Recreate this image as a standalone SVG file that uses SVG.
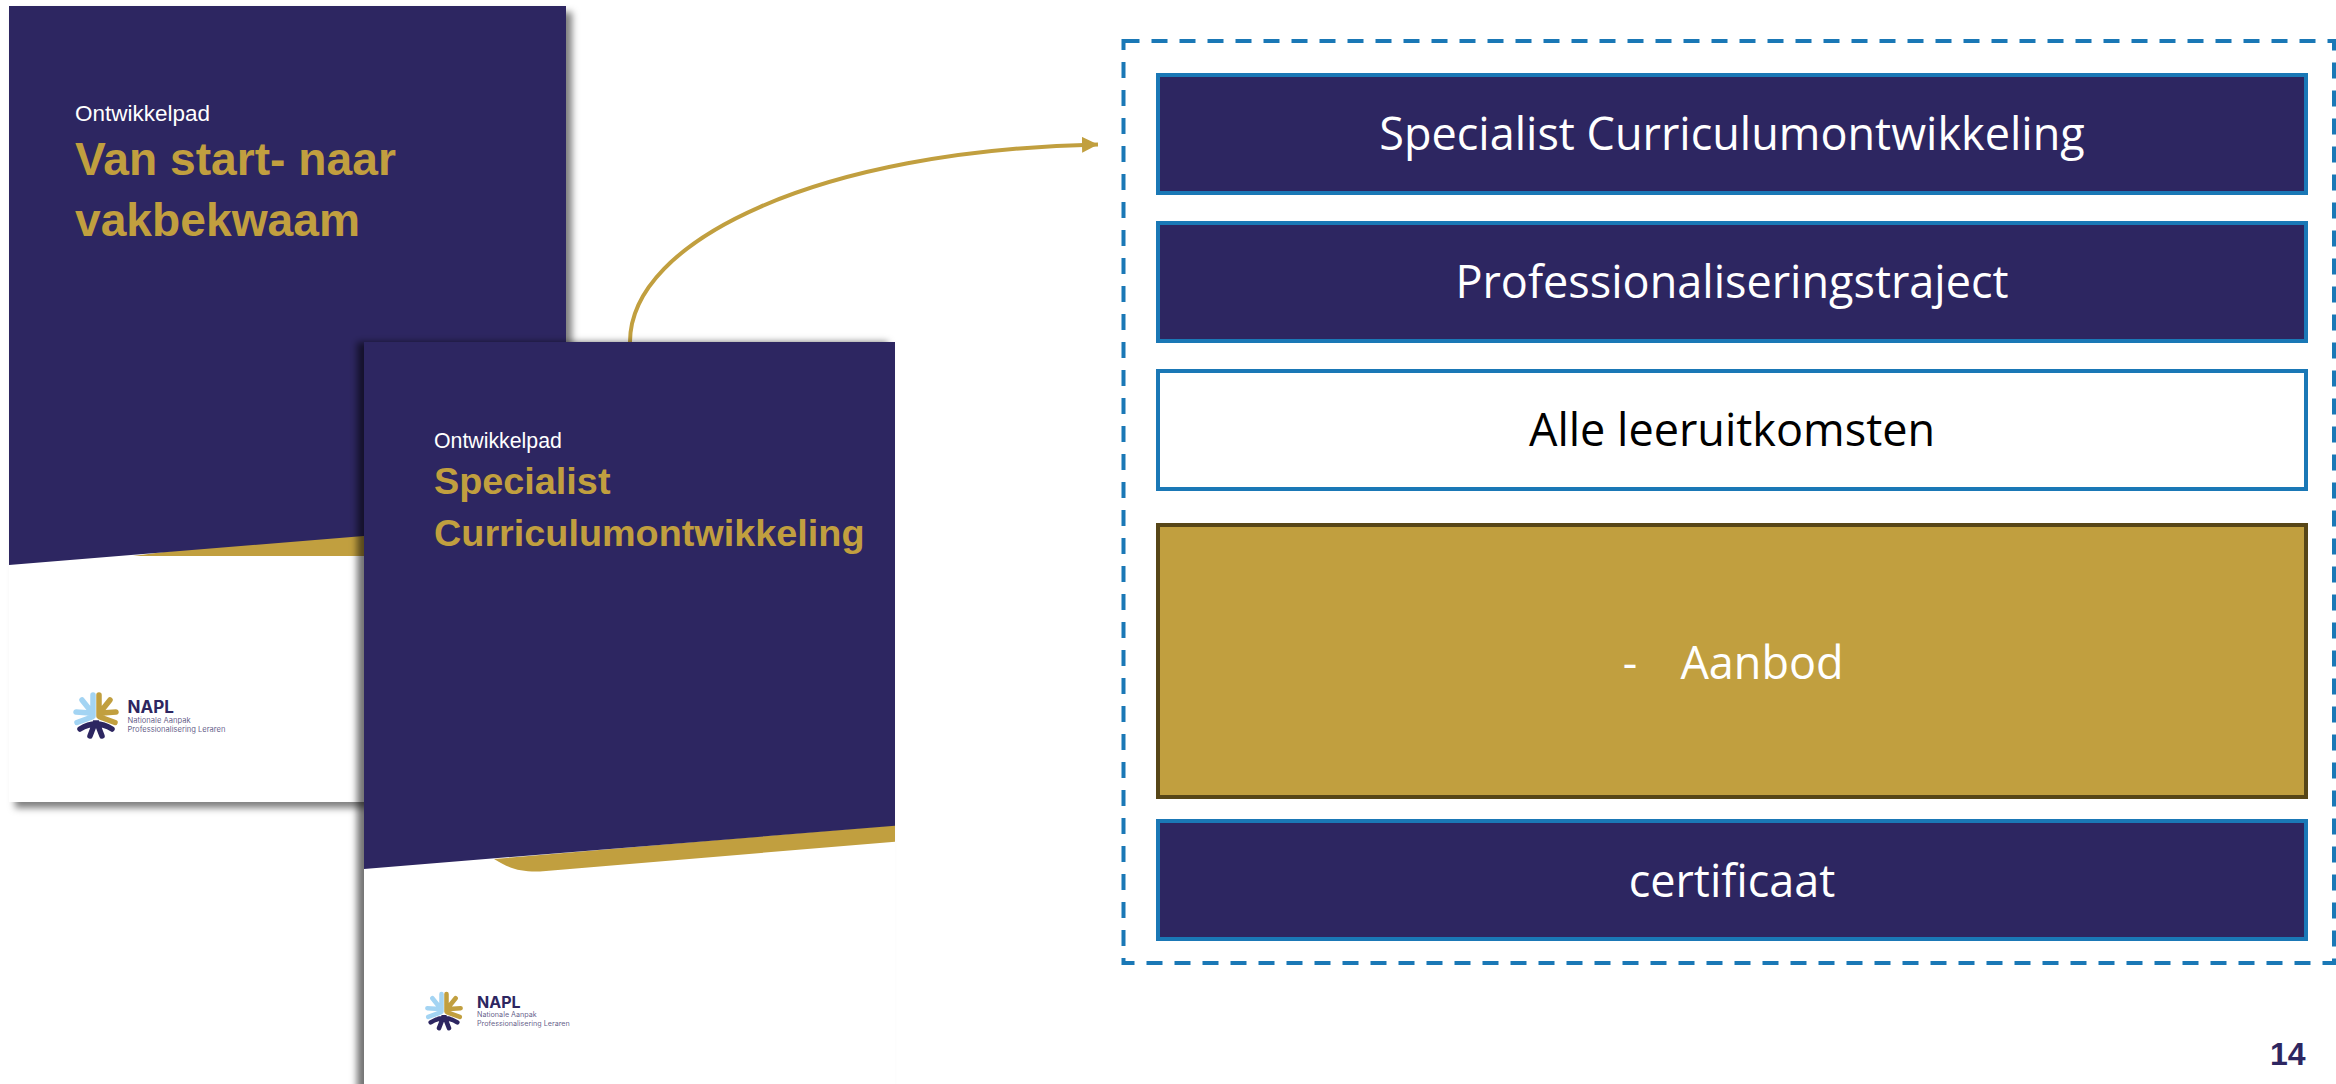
<svg xmlns="http://www.w3.org/2000/svg" width="2336" height="1084" viewBox="0 0 2336 1084">
<style>
.sans{font-family:"Liberation Sans",Arial,sans-serif}
.lbl{font-family:"Open Sans","Noto Sans",sans-serif;font-size:45px;text-anchor:middle;fill:#fff}
.box{stroke:#1a78b6;stroke-width:4}
.navy{fill:#2d2661}
.gold{fill:#c19f3f}
.sub{fill:#fff}
.ttl{font-weight:700;fill:#c19f3f}
.nm{font-family:"Inter","Liberation Sans",sans-serif;font-weight:700;fill:#2d2661}
.sm{font-family:"Inter","Liberation Sans",sans-serif;fill:#2d2661;fill-opacity:.75}
</style>
<defs>
<filter id="sh1" x="-10%" y="-10%" width="120%" height="120%"><feDropShadow dx="6" dy="6" stdDeviation="3.500" flood-color="#000" flood-opacity=".5"/></filter>
<filter id="sh2" x="-10%" y="-10%" width="120%" height="120%"><feDropShadow dx="-7" dy="0" stdDeviation="3.500" flood-color="#000" flood-opacity=".55"/></filter>
<marker id="ah" markerUnits="userSpaceOnUse" markerWidth="16" markerHeight="16" refX="16" refY="8" orient="auto"><path d="M0 0L16 8L0 16Z" fill="#c19f3f"/></marker>
<g id="logo" fill="none" stroke-width="5.500" stroke-linecap="round">
<path d="M-3 -20V1M-14 -15L-6 -5M-20 -3L-6 -2M-19 7.500L-4 2" stroke="#a3d4f3"/>
<path d="M3 -20V1M14 -15L6 -5M20 -3L6 -2M19 7.500L4 2" stroke="#c19f3f"/>
<path d="M-16 14Q0 4 16 14M-6 21L-1 8H1L6 21" stroke="#2d2661"/>
</g>
</defs>
<rect width="2336" height="1084" fill="#fff"/>
<g id="doc1">
<rect x="9" y="6" width="557" height="796" fill="#fff" filter="url(#sh1)"/>
<path class="gold" d="M133 556H566V500Z"/>
<path class="navy" d="M9 6H566V519.500L9 565Z"/>
<text class="sans sub" x="75" y="120.500" font-size="22.500">Ontwikkelpad</text>
<text class="sans ttl" x="75" y="175" font-size="46.200">Van start- naar</text>
<text class="sans ttl" x="75" y="235.500" font-size="46.200">vakbekwaam</text>
<use href="#logo" x="96" y="715"/>
<text class="nm" x="127.500" y="712.500" font-size="17">NAPL</text>
<text class="sm" x="127.500" y="723" font-size="7.600">Nationale Aanpak</text>
<text class="sm" x="127.500" y="732" font-size="7.600">Professionalisering Leraren</text>
</g>
<g id="connectors">
<path d="M630 342C630 240 820 150 1098 144.500" fill="none" stroke="#c19f3f" stroke-width="4" marker-end="url(#ah)"/>
</g>
<g id="doc2">
<rect x="364" y="342" width="531" height="760" fill="#fff" filter="url(#sh2)"/>
<path class="gold" d="M494 859C510 869 520 872 540 871.500L895 841.700V825Z"/>
<path class="navy" d="M364 342H895V825.700L364 869Z"/>
<text class="sans sub" x="434" y="448" font-size="21.300">Ontwikkelpad</text>
<text class="sans ttl" x="434" y="494" font-size="37.800">Specialist</text>
<text class="sans ttl" x="434" y="546" font-size="37.800">Curriculumontwikkeling</text>
<g transform="translate(444 1010.700) scale(.83)"><use href="#logo"/></g>
<text class="nm" x="477" y="1007.500" font-size="16">NAPL</text>
<text class="sm" x="477" y="1017" font-size="7.200">Nationale Aanpak</text>
<text class="sm" x="477" y="1026" font-size="7.200">Professionalisering Leraren</text>
</g>
<g id="frame"><rect x="1123.500" y="41" width="1210.500" height="922" fill="none" stroke="#1a78b6" stroke-width="4" stroke-dasharray="16 12"/></g>
<g id="n1"><rect class="box navy" x="1158" y="75" width="1148" height="118"/><text class="lbl" x="1732" y="150">Specialist Curriculumontwikkeling</text></g>
<g id="n2"><rect class="box navy" x="1158" y="223" width="1148" height="118"/><text class="lbl" x="1732" y="298">Professionaliseringstraject</text></g>
<g id="n3"><rect class="box" x="1158" y="371" width="1148" height="118" fill="#fff"/><text class="lbl" x="1732" y="446" style="fill:#000">Alle leeruitkomsten</text></g>
<g id="n4"><rect class="gold" x="1158" y="525" width="1148" height="272" stroke="#574617" stroke-width="4"/><text class="lbl" x="1630" y="679">-</text><text class="lbl" x="1762" y="679">Aanbod</text></g>
<g id="n5"><rect class="box navy" x="1158" y="821" width="1148" height="118"/><text class="lbl" x="1732" y="897">certificaat</text></g>
<text class="sans" x="2270" y="1065" font-size="32" font-weight="700" fill="#2d2661">14</text>
</svg>
